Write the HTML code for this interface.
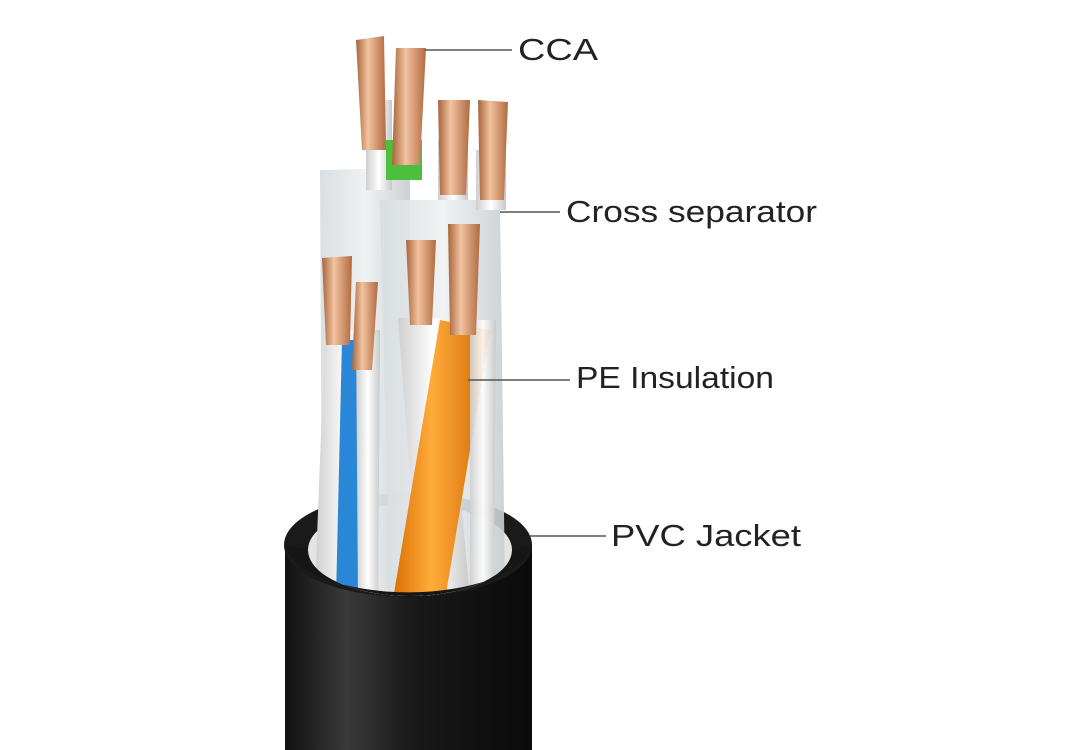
<!DOCTYPE html>
<html><head><meta charset="utf-8"><style>
html,body{margin:0;padding:0;background:#fff;}
svg{display:block;}
text{font-family:"Liberation Sans",sans-serif;font-size:31px;fill:#222;}
</style></head><body>
<svg width="1072" height="750" viewBox="0 0 1072 750" xmlns="http://www.w3.org/2000/svg">
<defs>
<linearGradient id="jk" x1="0" x2="1"><stop offset="0" stop-color="#111"/><stop offset="0.25" stop-color="#3a3a3a"/><stop offset="0.5" stop-color="#1a1a1a"/><stop offset="1" stop-color="#0a0a0a"/></linearGradient>
<linearGradient id="cu" x1="0" x2="1"><stop offset="0" stop-color="#a8643a"/><stop offset="0.4" stop-color="#f2c3a0"/><stop offset="1" stop-color="#b06a40"/></linearGradient>
<linearGradient id="or" x1="0" x2="1"><stop offset="0" stop-color="#d96f00"/><stop offset="0.4" stop-color="#ffab3a"/><stop offset="1" stop-color="#d06800"/></linearGradient>
<linearGradient id="wh" x1="0" x2="1"><stop offset="0" stop-color="#cfcfcf"/><stop offset="0.5" stop-color="#ffffff"/><stop offset="1" stop-color="#c8c8c8"/></linearGradient>
<linearGradient id="sep" x1="0" x2="1"><stop offset="0" stop-color="#d8dde0"/><stop offset="0.5" stop-color="#eef1f2"/><stop offset="1" stop-color="#c9ced2"/></linearGradient>
<clipPath id="cl"><path d="M0 0 H1072 V550 H512 A102 46 0 0 1 308 550 H0 Z"/></clipPath>
</defs>
<!-- jacket body -->
<rect x="285" y="545" width="247" height="205" fill="url(#jk)"/>
<ellipse cx="408" cy="545" rx="124" ry="52" fill="#1a1a1a"/>
<ellipse cx="410" cy="550" rx="102" ry="46" fill="#e4e4e4"/>
<g clip-path="url(#cl)">
<!-- separator -->
<polygon points="320,170 410,168 410,600 322,560" fill="url(#sep)" opacity="0.95"/>
<polygon points="380,200 500,200 505,590 390,600" fill="url(#sep)" opacity="0.9"/>
<!-- upper wires -->
<rect x="366" y="100" width="26" height="90" fill="url(#wh)"/>
<rect x="386" y="140" width="36" height="40" fill="#4cbf3c"/>
<rect x="438" y="140" width="30" height="60" fill="url(#wh)"/>
<rect x="476" y="150" width="30" height="60" fill="url(#wh)"/>
<path d="M356 40 L384 36 L386 150 L362 150 Z" fill="url(#cu)"/>
<path d="M396 48 L426 48 L420 165 L392 165 Z" fill="url(#cu)"/>
<path d="M438 100 L470 100 L466 195 L440 195 Z" fill="url(#cu)"/>
<path d="M478 100 L508 102 L504 200 L480 200 Z" fill="url(#cu)"/>
<!-- lower wires -->
<path d="M325 330 L380 330 L378 600 L315 590 Z" fill="url(#wh)"/>
<path d="M342 340 L362 340 L358 600 L336 598 Z" fill="#2a86d6"/>
<path d="M356 330 L380 330 L378 600 L358 600 Z" fill="url(#wh)"/>
<path d="M398 318 L445 318 L470 600 L420 605 Z" fill="url(#wh)"/>
<path d="M440 320 L490 330 L445 600 L392 605 Z" fill="url(#or)"/>
<path d="M470 320 L496 320 L494 590 L470 590 Z" fill="url(#wh)" opacity="0.9"/>
<path d="M322 258 L352 256 L350 345 L326 345 Z" fill="url(#cu)"/>
<path d="M356 282 L378 282 L372 370 L352 370 Z" fill="url(#cu)"/>
<path d="M406 240 L436 240 L432 325 L410 325 Z" fill="url(#cu)"/>
<path d="M448 224 L480 224 L476 335 L450 335 Z" fill="url(#cu)"/>
</g>
<!-- front rim crescent -->
<path d="M285 545 A124 52 0 0 0 532 545 L512 550 A102 46 0 0 1 308 550 Z" fill="#161616"/>
<!-- leader lines -->
<g stroke="#555" stroke-width="1.5">
<line x1="425" y1="50" x2="512" y2="50"/>
<line x1="500" y1="212" x2="560" y2="212"/>
<line x1="468" y1="380" x2="570" y2="380"/>
<line x1="530" y1="536" x2="606" y2="536"/>
</g>
<text x="518" y="60" textLength="80" lengthAdjust="spacingAndGlyphs">CCA</text>
<text x="566" y="222" textLength="251" lengthAdjust="spacingAndGlyphs">Cross separator</text>
<text x="576" y="388" textLength="198" lengthAdjust="spacingAndGlyphs">PE Insulation</text>
<text x="611" y="546" textLength="190" lengthAdjust="spacingAndGlyphs">PVC Jacket</text>
</svg>
</body></html>
